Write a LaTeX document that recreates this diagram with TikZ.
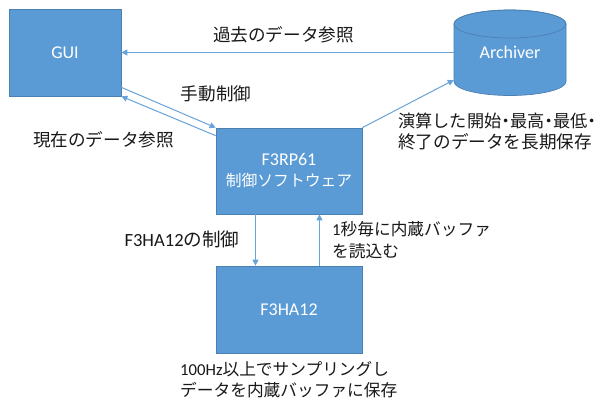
\documentclass[tikz,border=0pt]{standalone}
\usepackage{fontspec}
\usetikzlibrary{arrows.meta}
\setmainfont{Carlito}
\newfontfamily\cjk{Noto Sans CJK JP}
\newcommand{\J}[1]{{\cjk #1}}
\newcommand{\Dot}{\makebox[0.5em][c]{\J{・}}}
\definecolor{boxfill}{HTML}{5B9BD5}
\definecolor{boxline}{HTML}{4A80B2}
\definecolor{linkcol}{HTML}{68A3DB}
\tikzset{
  bluebox/.style={rectangle,draw=boxline,line width=0.7pt,fill=boxfill,text=white,align=center,inner sep=0pt,font=\fontsize{18}{23}\selectfont},
  link/.style={draw=linkcol,line width=1pt,-{Triangle[length=6pt,width=6pt]}},
  lbl/.style={text=black!90,inner sep=0pt,font=\fontsize{17.6}{21.5}\selectfont},
  lblsmall/.style={text=black!90,inner sep=0pt,font=\fontsize{16.7}{21.5}\selectfont},
}
\begin{document}
\begin{tikzpicture}[x=1pt,y=-1pt]
\useasboundingbox (0,0) rectangle (602,399);
\fill[white] (0,0) rectangle (602,399);
\node[bluebox,minimum width=112pt,minimum height=87pt] (gui) at (65,52.5) {GUI};
\node[bluebox,minimum width=146pt,minimum height=86pt] (rp) at (289,171) {F3RP61\\[-2pt]{\fontsize{15.8}{20}\selectfont\J{制御ソフトウェア}}};
\node[bluebox,minimum width=146pt,minimum height=87pt] (ha) at (289,309.5) {F3HA12};
\draw[draw=boxline,line width=0.7pt,fill=boxfill] (454,24) -- (454,81.5) arc[start angle=180,end angle=360,x radius=56pt,y radius=14pt] -- (566,24) arc[start angle=0,end angle=180,x radius=56pt,y radius=14pt] -- cycle;
\draw[draw=boxline,line width=0.7pt] (510,24) ellipse[x radius=56pt,y radius=14pt];
\node[text=white,inner sep=0pt,minimum width=112pt,minimum height=86pt,font=\fontsize{18}{23}\selectfont] (arch) at (510,52.5) {\raisebox{-8pt}{Archiver}};
\draw[link] (arch.west |- gui.east) -- (gui.east);
\draw[link] ([yshift=9pt]gui.south east) -- (rp.north west);
\draw[link] ([yshift=-8pt]rp.north west) -- (gui.south east);
\draw[link] (rp.north east) -- ([yshift=-27.5pt]arch.west);
\draw[link] ([xshift=-33.5pt]rp.south) -- ([xshift=-33.5pt]ha.north);
\draw[link] ([xshift=30.5pt]ha.north) -- ([xshift=30.5pt]rp.south);
\node[lbl] (l1) at (283.5,35) {\J{過去のデータ参照}};
\node[lbl] (l2) at (216,94) {\J{手動制御}};
\node[lbl] (l3) at (103.5,140) {\J{現在のデータ参照}};
\node[lbl,anchor=west,align=left] (l4) at (398,131.5) {{\fontsize{17.2}{21.5}\selectfont\J{演算した開始}\Dot\J{最高}\Dot\J{最低}\Dot}\\\J{終了のデータを長期保存}};
\node[lbl,font=\fontsize{18.6}{21.5}\selectfont] (l5) at (182,239) {F3HA12\J{の制御}};
\node[lblsmall,anchor=west,align=left] (l6) at (332,240) {1\J{秒毎に内蔵バッファ}\\\J{を読込む}};
\node[lblsmall,anchor=west,align=left] (l7) at (180,379.5) {100Hz\J{以上でサンプリングし}\\\J{データを内蔵バッファに保存}};
\end{tikzpicture}
\end{document}
